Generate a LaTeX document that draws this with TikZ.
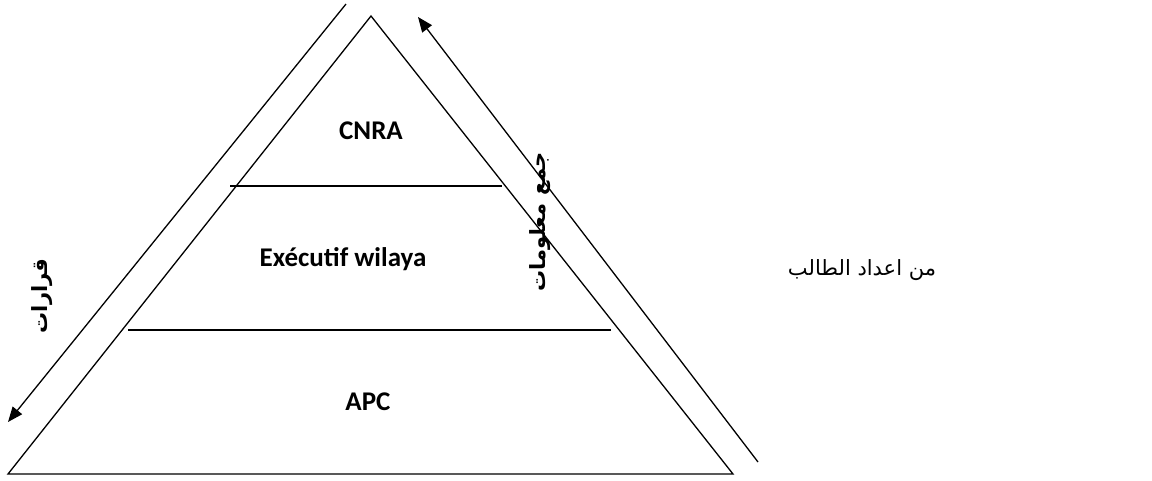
\documentclass[tikz,border=0pt]{standalone}
\usepackage{fontspec}
\setmainfont{Carlito}
\newfontfamily\arabicfont[Script=Arabic]{DejaVu Sans}
\TeXXeTstate=1
\usetikzlibrary{arrows.meta}

\begin{document}
\begin{tikzpicture}[x=1pt,y=-1pt,
  edge/.style={draw=black,line width=1.3pt},
  flow/.style={draw=black,line width=1.3pt,-{Triangle[length=15pt,width=12pt]}},
  level/.style={font=\bfseries\fontsize{27}{32}\selectfont},
  side/.style={font=\arabicfont\bfseries\fontsize{21}{25}\selectfont,rotate=90},
  note/.style={font=\arabicfont\fontsize{21}{25}\selectfont}]
\useasboundingbox (0,0) rectangle (1152,480);

% pyramid outline
\coordinate (apex) at (371,16);
\coordinate (bl) at (8,474);
\coordinate (br) at (733,474);
\draw[edge] (bl) -- (apex) -- (br) -- cycle;

% level separators
\coordinate (s1a) at (230,186);
\coordinate (s1b) at (502,186);
\coordinate (s2a) at (128,330);
\coordinate (s2b) at (611,330);
\draw[edge] (s1a) -- (s1b);
\draw[edge] (s2a) -- (s2b);

% level labels
\node[level] (cnra) at (371,131) {CNRA};
\node[level] (exec) at (343,259) {Exécutif wilaya};
\node[level] (apc) at (368,402) {APC};

% decisions flow down, information flows up
\coordinate (dtop) at (346,4);
\coordinate (dbot) at (8,422);
\draw[flow] (dtop) -- (dbot);
\coordinate (ubot) at (758,462);
\coordinate (utop) at (418,17);
\draw[flow] (ubot) -- (utop);

\node[side] (dec) at (42,296) {\beginR قرارات\endR};
\node[side] (info) at (540,222) {\beginR جمع معلومات\endR};

\node[note] (author) at (862,270) {\beginR من اعداد الطالب\endR};
\end{tikzpicture}
\end{document}
